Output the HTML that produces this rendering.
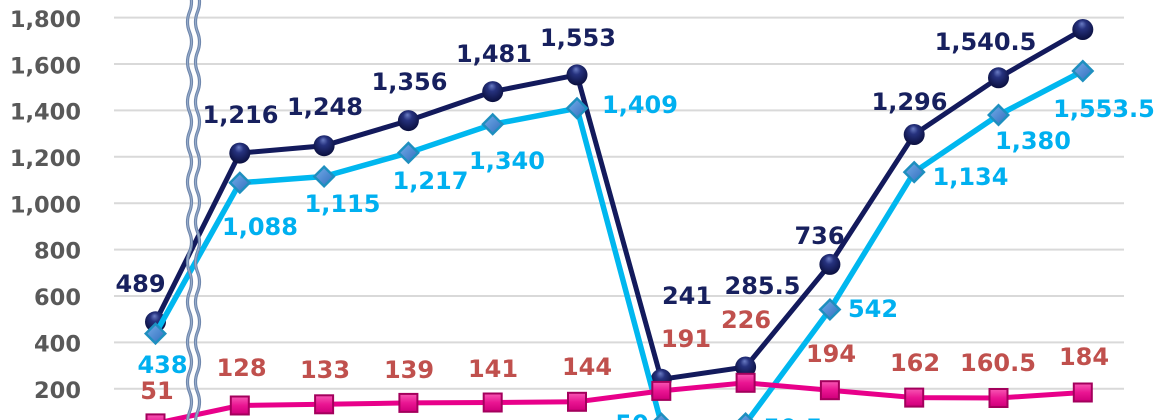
<!DOCTYPE html>
<html><head><meta charset="utf-8"><style>
html,body{margin:0;padding:0;background:#fff;overflow:hidden;width:1162px;height:420px;}
svg{display:block;}
.ax{font-family:"DejaVu Sans","Liberation Sans",sans-serif;font-weight:bold;font-size:22.5px;fill:#595959;text-anchor:end;}
.lb{font-family:"DejaVu Sans","Liberation Sans",sans-serif;font-weight:bold;font-size:24px;text-anchor:middle;}
.d{fill:#17205e;}
.c{fill:#00b0f0;}
.r{fill:#c0504d;}
</style></head><body>
<svg width="1162" height="420" viewBox="0 0 1162 420" xmlns="http://www.w3.org/2000/svg" style="overflow:hidden">
<defs>
<radialGradient id="gs" cx="50%" cy="40%" r="60%" fx="45%" fy="22%">
<stop offset="0" stop-color="#6a7cc4"/>
<stop offset="0.35" stop-color="#26327e"/>
<stop offset="1" stop-color="#0a0f3e"/>
</radialGradient>
<linearGradient id="gd" x1="0" y1="0" x2="1" y2="1">
<stop offset="0" stop-color="#6fa8e6"/>
<stop offset="1" stop-color="#3672c0"/>
</linearGradient>
<linearGradient id="gp" x1="0" y1="0" x2="0" y2="1">
<stop offset="0" stop-color="#f650b0"/>
<stop offset="0.5" stop-color="#ea1592"/>
<stop offset="1" stop-color="#d2007c"/>
</linearGradient>
<g id="sph"><circle r="10.5" fill="url(#gs)"/></g>
<g id="dia">
<polygon points="0,-11.5 11.5,0 0,11.5 -11.5,0" fill="#1e8fbf"/>
<polygon points="0,-8 8,0 0,8 -8,0" fill="url(#gd)"/>
</g>
<g id="sq">
<rect x="-10" y="-10" width="20" height="20" fill="#a3005c"/>
<rect x="-8" y="-8" width="16" height="16" fill="url(#gp)"/>
</g>
</defs>
<rect width="1162" height="420" fill="#fff"/>
<g stroke="#d9d9d9" stroke-width="2">
<line x1="114" y1="17.6" x2="1124" y2="17.6"/>
<line x1="114" y1="64" x2="1124" y2="64"/>
<line x1="114" y1="110.4" x2="1124" y2="110.4"/>
<line x1="114" y1="156.8" x2="1124" y2="156.8"/>
<line x1="114" y1="203.2" x2="1124" y2="203.2"/>
<line x1="114" y1="249.6" x2="1124" y2="249.6"/>
<line x1="114" y1="296" x2="1124" y2="296"/>
<line x1="114" y1="342.4" x2="1124" y2="342.4"/>
<line x1="114" y1="388.8" x2="1124" y2="388.8"/>
</g>
<g class="ax">
<text x="81" y="27">1,800</text>
<text x="81" y="73.5">1,600</text>
<text x="81" y="119.5">1,400</text>
<text x="81" y="166">1,200</text>
<text x="81" y="212.5">1,000</text>
<text x="81" y="258.5">800</text>
<text x="81" y="305">600</text>
<text x="81" y="351.5">400</text>
<text x="81" y="398">200</text>
</g>
<!-- dark series -->
<polyline fill="none" stroke="#131a5c" stroke-width="5" stroke-linejoin="round" points="155.5,321.8 239.8,153.1 324.1,145.7 408.4,120.6 492.7,91.6 577,74.9 661.3,379.3 745.6,367 829.9,264.4 914.2,134.5 998.5,77.8 1082.8,29.5"/>
<g>
<use href="#sph" x="155.5" y="321.8"/><use href="#sph" x="239.8" y="153.1"/><use href="#sph" x="324.1" y="145.7"/><use href="#sph" x="408.4" y="120.6"/><use href="#sph" x="492.7" y="91.6"/><use href="#sph" x="577" y="74.9"/><use href="#sph" x="661.3" y="379.3"/><use href="#sph" x="745.6" y="367"/><use href="#sph" x="829.9" y="264.4"/><use href="#sph" x="914.2" y="134.5"/><use href="#sph" x="998.5" y="77.8"/><use href="#sph" x="1082.8" y="29.5"/>
</g>
<!-- cyan series -->
<polyline fill="none" stroke="#00b7ef" stroke-width="5.5" stroke-linejoin="round" points="155.5,333.6 239.8,182.8 324.1,176.5 408.4,152.8 492.7,124.3 577,108.3 661.3,423.6 745.6,423.5 829.9,309.5 914.2,172.1 998.5,115 1082.8,71"/>
<g>
<use href="#dia" x="155.5" y="333.6"/><use href="#dia" x="239.8" y="182.8"/><use href="#dia" x="324.1" y="176.5"/><use href="#dia" x="408.4" y="152.8"/><use href="#dia" x="492.7" y="124.3"/><use href="#dia" x="577" y="108.3"/><use href="#dia" x="661.3" y="423.6"/><use href="#dia" x="745.6" y="423.5"/><use href="#dia" x="829.9" y="309.5"/><use href="#dia" x="914.2" y="172.1"/><use href="#dia" x="998.5" y="115"/><use href="#dia" x="1082.8" y="71"/>
</g>
<!-- pink series -->
<polyline fill="none" stroke="#e8008a" stroke-width="5" stroke-linejoin="round" points="155.5,423.4 239.8,405.5 324.1,404.3 408.4,402.9 492.7,402.5 577,401.8 661.3,390.9 745.6,382.8 829.9,390.2 914.2,397.6 998.5,398 1082.8,392.5"/>
<g>
<use href="#sq" x="155.5" y="423.4"/><use href="#sq" x="239.8" y="405.5"/><use href="#sq" x="324.1" y="404.3"/><use href="#sq" x="408.4" y="402.9"/><use href="#sq" x="492.7" y="402.5"/><use href="#sq" x="577" y="401.8"/><use href="#sq" x="661.3" y="390.9"/><use href="#sq" x="745.6" y="382.8"/><use href="#sq" x="829.9" y="390.2"/><use href="#sq" x="914.2" y="397.6"/><use href="#sq" x="998.5" y="398"/><use href="#sq" x="1082.8" y="392.5"/>
</g>
<!-- break symbol -->
<g fill="none">
<path d="M189.5,-8 q4,10 0,20 t0,20 t0,20 t0,20 t0,20 t0,20 t0,20 t0,20 t0,20 t0,20 t0,20 t0,20 t0,20 t0,20 t0,20 t0,20 t0,20 t0,20 t0,20 t0,20 t0,20 t0,20 t0,20" stroke="#6f87ad" stroke-width="3.2"/>
<path d="M197.5,-8 q4,10 0,20 t0,20 t0,20 t0,20 t0,20 t0,20 t0,20 t0,20 t0,20 t0,20 t0,20 t0,20 t0,20 t0,20 t0,20 t0,20 t0,20 t0,20 t0,20 t0,20 t0,20 t0,20 t0,20" stroke="#6f87ad" stroke-width="3.2"/>
<path d="M189.5,-8 q4,10 0,20 t0,20 t0,20 t0,20 t0,20 t0,20 t0,20 t0,20 t0,20 t0,20 t0,20 t0,20 t0,20 t0,20 t0,20 t0,20 t0,20 t0,20 t0,20 t0,20 t0,20 t0,20 t0,20" stroke="#9aaecb" stroke-width="1"/>
<path d="M197.5,-8 q4,10 0,20 t0,20 t0,20 t0,20 t0,20 t0,20 t0,20 t0,20 t0,20 t0,20 t0,20 t0,20 t0,20 t0,20 t0,20 t0,20 t0,20 t0,20 t0,20 t0,20 t0,20 t0,20 t0,20" stroke="#9aaecb" stroke-width="1"/>
</g>
<!-- labels -->
<g class="lb d">
<text x="140.5" y="292">489</text>
<text x="240.5" y="123">1,216</text>
<text x="325" y="115">1,248</text>
<text x="409.5" y="90">1,356</text>
<text x="494" y="62">1,481</text>
<text x="578" y="46">1,553</text>
<text x="687" y="304">241</text>
<text x="762.5" y="294">285.5</text>
<text x="819.5" y="244">736</text>
<text x="909.5" y="110">1,296</text>
<text x="985.5" y="50">1,540.5</text>
</g>
<g class="lb c">
<text x="162.5" y="373">438</text>
<text x="260" y="235">1,088</text>
<text x="342.5" y="212">1,115</text>
<text x="430.5" y="189">1,217</text>
<text x="507" y="169">1,340</text>
<text x="640" y="113">1,409</text>
<text x="632" y="432">50</text>
<text x="793" y="436">50.5</text>
<text x="873" y="317">542</text>
<text x="970.5" y="185">1,134</text>
<text x="1033" y="149">1,380</text>
<text x="1104" y="117">1,553.5</text>
</g>
<g class="lb r">
<text x="157" y="399">51</text>
<text x="241.5" y="376">128</text>
<text x="325" y="378">133</text>
<text x="409" y="378">139</text>
<text x="493" y="377">141</text>
<text x="587" y="375">144</text>
<text x="686" y="347">191</text>
<text x="746" y="328">226</text>
<text x="831" y="362">194</text>
<text x="915" y="371">162</text>
<text x="998" y="371">160.5</text>
<text x="1084" y="365">184</text>
</g>
</svg>
</body></html>
